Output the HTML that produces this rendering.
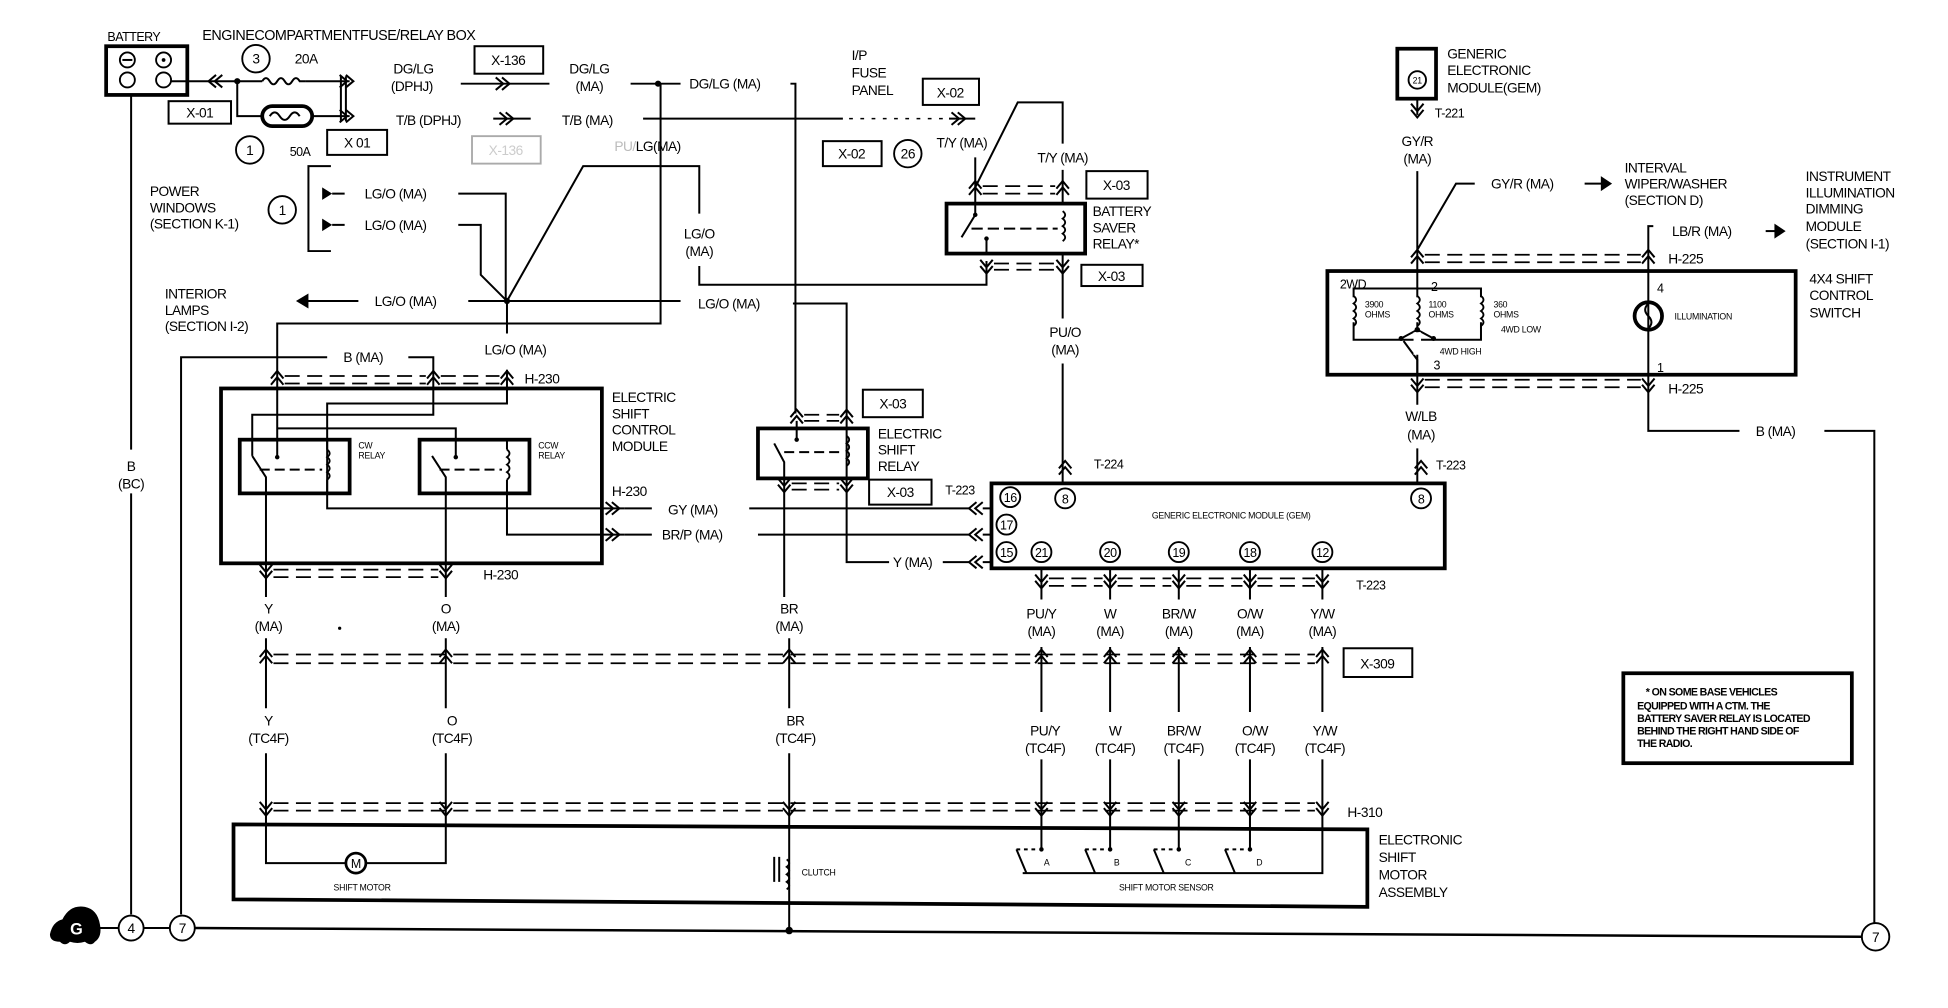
<!DOCTYPE html>
<html><head><meta charset="utf-8"><style>
html,body{margin:0;padding:0;background:#fff;width:1948px;height:1008px;overflow:hidden}
svg{display:block}
text{font-family:"Liberation Sans",sans-serif;font-size:11px;fill:#000;letter-spacing:-0.4px}
.w{stroke:#000;stroke-width:1.6;fill:none}
.t{stroke:#000;stroke-width:3;fill:none}
.b{stroke:#000;stroke-width:1.5;fill:#fff}
.d{stroke:#000;stroke-width:1.4;stroke-dasharray:12 6;fill:none}
.s{font-size:7px;letter-spacing:-0.2px}
.n{font-size:8.5px;letter-spacing:-0.5px;font-weight:bold}
.p{font-size:10px}
.c{text-anchor:middle}
</style></head><body>
<svg width="1948" height="1008" viewBox="0 0 1560 807" preserveAspectRatio="none" xmlns="http://www.w3.org/2000/svg">
<defs>
<path id="up" d="M-5,5 L0,-1 L5,5 M-5,10 L0,4 L5,10" stroke="#000" stroke-width="1.6" fill="none"/>
<path id="dn" d="M-5,-5 L0,1 L5,-5 M-5,-10 L0,-4 L5,-10" stroke="#000" stroke-width="1.6" fill="none"/>
<path id="rt" d="M-5,-5 L1,0 L-5,5 M-10,-5 L-4,0 L-10,5" stroke="#000" stroke-width="1.6" fill="none"/>
<path id="lt" d="M5,-5 L-1,0 L5,5 M10,-5 L4,0 L10,5" stroke="#000" stroke-width="1.6" fill="none"/>
<path id="coil" d="M0,0 q4,3 0,6 q4,3 0,6 q4,3 0,6 q4,3 0,6" stroke="#000" stroke-width="1.5" fill="none"/>
</defs>

<text x="86" y="33" style="font-size:10px">BATTERY</text>
<rect x="85" y="37" width="65" height="39" class="t"/>
<circle cx="102" cy="48" r="6" class="b"/><line x1="98" y1="48" x2="106" y2="48" class="w"/>
<circle cx="131" cy="48" r="6" class="b"/><circle cx="131" cy="48" r="1.5"/>
<circle cx="102" cy="64" r="6" class="b"/><circle cx="131" cy="64" r="6" class="b"/>
<text x="162" y="32" style="font-size:11.5px">ENGINECOMPARTMENTFUSE/RELAY  BOX</text>
<circle cx="205" cy="47" r="11" class="b"/><text x="205" y="51" class="c">3</text>
<text x="236" y="51">20A</text>
<path d="M137,65 H210 M245,65 H280" class="w"/>
<path d="M210,65 q3,-5 6,0 q3,5 6,0 q3,-5 6,0 q3,5 6,0 q3,-5 6,0 l5,0" class="w"/>
<use href="#lt" x="168" y="65"/>
<circle cx="190" cy="65" r="2.5"/>
<path d="M190,65 V93 H210 M250,93 H280" class="w"/>
<rect x="210" y="85" width="40" height="16" rx="8" class="t"/>
<path d="M216,93 q4,-6 8,0 q4,6 8,0 q4,-6 8,0" class="w"/>
<use href="#rt" x="282" y="65"/><use href="#rt" x="282" y="93"/>
<path d="M273,61 V97 M277,61 V97" class="w"/>
<rect x="135" y="81" width="50" height="18" class="w"/><text x="160" y="94" class="c">X-01</text>
<rect x="262" y="104" width="48" height="20" class="w"/><text x="286" y="118" class="c">X 01</text>
<circle cx="200" cy="120" r="11" class="b"/><text x="200" y="124" class="c">1</text>
<text x="232" y="125" style="font-size:10px">50A</text>

<text x="315" y="59">DG/LG</text><text x="313" y="73">(DPHJ)</text>
<path d="M369,67 H440" class="w"/><use href="#rt" x="407" y="67"/>
<rect x="380" y="37" width="55" height="22" class="w"/><text x="407" y="52" class="c">X-136</text>
<text x="472" y="59" class="c">DG/LG</text><text x="472" y="73" class="c">(MA)</text>
<path d="M505,67 H545" class="w"/><circle cx="527" cy="67" r="2.5"/>
<text x="552" y="71">DG/LG (MA)</text>
<path d="M633,67 H637 V331" class="w"/>
<text x="317" y="100">T/B (DPHJ)</text>
<path d="M395,95 H425" class="w"/><use href="#rt" x="410" y="95"/>
<text x="450" y="100">T/B (MA)</text>
<path d="M515,95 H675" class="w"/>
<path d="M680,95 H760" stroke="#000" stroke-width="1.2" stroke-dasharray="3 6" fill="none"/>
<path d="M760,95 H781" class="w"/><use href="#rt" x="772" y="95"/>
<text x="682" y="48">I/P</text><text x="682" y="62">FUSE</text><text x="682" y="76">PANEL</text>
<rect x="739" y="63" width="45" height="21" class="w"/><text x="761" y="78" class="c">X-02</text>
<rect x="659" y="113" width="47" height="20" class="w"/><text x="682" y="127" class="c">X-02</text>
<circle cx="727" cy="123" r="11" class="b"/><text x="727" y="127" class="c">26</text>
<text x="750" y="118">T/Y (MA)</text>
<rect x="378" y="109" width="55" height="22" stroke="#aaa" stroke-width="1.5" fill="none"/><text x="405" y="124" class="c" style="fill:#ccc">X-136</text>
<text x="492" y="121"><tspan style="fill:#bbb">PU/</tspan>LG(MA)</text>
<path d="M529,67 V259 H222 V352" class="w"/>

<text x="120" y="157">POWER</text><text x="120" y="170">WINDOWS</text><text x="120" y="183">(SECTION K-1)</text>
<circle cx="226" cy="168" r="11" class="b"/><text x="226" y="172" class="c">1</text>
<path d="M265,133 H247 V201 H265" class="w"/>
<path d="M258,150 L266,155 L258,160 Z M258,175 L266,180 L258,185 Z"/>
<path d="M266,155 H276 M266,180 H276" class="w"/>
<text x="292" y="159">LG/O (MA)</text><text x="292" y="184">LG/O (MA)</text>
<path d="M367,155 H405 V241 M367,180 H385 V220 L406,241 L467,133 H560 V171" class="w"/>
<text x="560" y="191" class="c">LG/O</text><text x="560" y="205" class="c">(MA)</text>
<path d="M560,213 V228 H790 V209" class="w"/>
<text x="132" y="239">INTERIOR</text><text x="132" y="252">LAMPS</text><text x="132" y="265">(SECTION I-2)</text>
<path d="M237,241 L247,235 L247,247 Z"/>
<path d="M245,241 H287 M375,241 H545" class="w"/>
<text x="300" y="245">LG/O (MA)</text>
<circle cx="406" cy="241" r="2.5"/>
<text x="559" y="247">LG/O (MA)</text>
<path d="M635,243 H678 V450 H712" class="w"/>
<path d="M406,241 V267 M406,296 V323 H262 V407 H500" class="w"/>
<text x="388" y="284">LG/O (MA)</text>

<path d="M105,76 V360 M105,395 V732" class="w"/>
<text x="105" y="377" class="c">B</text><text x="105" y="391" class="c">(BC)</text>
<path d="M145,732 V286 H262 M327,286 H347 V332 H202 V352" class="w"/>
<text x="275" y="290">B (MA)</text>
<path d="M222,343 H365 V352" class="w"/>

<use href="#up" x="222" y="298"/><use href="#up" x="347" y="298"/><use href="#up" x="406" y="298"/>
<path d="M228,301 H341 M353,301 H400 M228,307 H341 M353,307 H400" class="d"/>
<text x="420" y="307">H-230</text>

<rect x="177" y="311" width="305" height="140" class="t"/>
<text x="490" y="322">ELECTRIC</text><text x="490" y="335">SHIFT</text><text x="490" y="348">CONTROL</text><text x="490" y="361">MODULE</text>
<rect x="192" y="352" width="88" height="43" class="t"/>
<rect x="336" y="352" width="88" height="43" class="t"/>
<text x="287" y="359" class="s">CW</text><text x="287" y="367" class="s">RELAY</text>
<text x="431" y="359" class="s">CCW</text><text x="431" y="367" class="s">RELAY</text>
<use href="#coil" x="262" y="360"/><use href="#coil" x="406" y="360"/>
<path d="M262,352 V360 M262,384 V395 M406,352 V360 M406,384 V428 H500" class="w"/>
<path d="M202,352 V365 M222,352 V365 M213,395 V382 L202,365 M357,395 V382 L346,365 M365,352 V365" class="w"/>
<circle cx="222" cy="366" r="1.8"/><circle cx="365" cy="366" r="1.8"/>
<path d="M208,376 H258 M352,376 H402" class="w" stroke-dasharray="8 4"/>
<path d="M213,395 V478 M357,395 V478" class="w"/>
<text x="490" y="397">H-230</text>
<text x="535" y="412">GY (MA)</text><text x="530" y="432">BR/P (MA)</text>
<use href="#rt" x="495" y="407"/><use href="#rt" x="495" y="428"/>
<path d="M500,407 H522 M600,407 H777 M500,428 H522 M607,428 H777 M755,450 H777" class="w"/>
<text x="715" y="454">Y (MA)</text>
<use href="#lt" x="777" y="407"/><use href="#lt" x="777" y="428"/><use href="#lt" x="777" y="450"/>
<path d="M787,407 H794 M787,428 H794 M787,450 H794" class="w"/>

<use href="#dn" x="213" y="462"/><use href="#dn" x="357" y="462"/>
<path d="M219,456 H351 M219,462 H351" class="d"/>
<text x="387" y="464">H-230</text>
<text x="215" y="491" class="c">Y</text><text x="215" y="505" class="c">(MA)</text>
<text x="357" y="491" class="c">O</text><text x="357" y="505" class="c">(MA)</text>
<circle cx="272" cy="503" r="1.3"/>
<text x="632" y="491" class="c">BR</text><text x="632" y="505" class="c">(MA)</text>

<use href="#up" x="638" y="329"/><use href="#up" x="678" y="329"/>
<path d="M644,332 H672 M644,337 H672" class="d"/>
<rect x="607" y="343" width="88" height="40" class="t"/>
<use href="#coil" x="678" y="349"/>
<path d="M638,337 V352 M628,383 V370 L620,355" class="w"/><circle cx="638" cy="352" r="1.8"/>
<path d="M628,362 H672" class="w" stroke-dasharray="8 4"/>
<use href="#dn" x="628" y="393"/><use href="#dn" x="678" y="393"/>
<path d="M634,387 H672 M634,392 H672" class="d"/>
<path d="M628,383 V478 M632,511 V567 M632,603 V745" class="w"/>
<rect x="691" y="312" width="48" height="22" class="w"/><text x="715" y="327" class="c">X-03</text>
<rect x="696" y="384" width="50" height="20" class="w"/><text x="721" y="398" class="c">X-03</text>
<text x="703" y="351">ELECTRIC</text><text x="703" y="364">SHIFT</text><text x="703" y="377">RELAY</text>
<text x="757" y="396" style="font-size:10px">T-223</text>

<path d="M781,126 V163 M781,150 L815,82 H851 V115 M851,136 V163" class="w"/>
<text x="851" y="130" class="c">T/Y (MA)</text>
<use href="#up" x="781" y="146"/><use href="#up" x="851" y="146"/>
<path d="M787,149 H845 M787,155 H845" class="d"/>
<rect x="870" y="137" width="49" height="22" class="w"/><text x="894" y="152" class="c">X-03</text>
<rect x="758" y="163" width="111" height="40" class="t"/>
<use href="#coil" x="851" y="169"/>
<path d="M781,163 V172 L770,190 M790,203 V192" class="w"/><circle cx="781" cy="172" r="1.8"/><circle cx="790" cy="191" r="1.8"/>
<path d="M778,183 H847" class="w" stroke-dasharray="9 4"/>
<use href="#dn" x="790" y="218"/><use href="#dn" x="851" y="218"/>
<path d="M796,211 H845 M796,216 H845" class="d"/>
<rect x="866" y="212" width="49" height="17" class="w"/><text x="890" y="225" class="c">X-03</text>
<text x="875" y="173">BATTERY</text><text x="875" y="186">SAVER</text><text x="875" y="199">RELAY*</text>
<path d="M851,203 V255 M851,291 V387" class="w"/>
<text x="853" y="270" class="c">PU/O</text><text x="853" y="284" class="c">(MA)</text>
<use href="#up" x="853" y="370"/><text x="876" y="375" style="font-size:10px">T-224</text>

<rect x="794" y="387" width="363" height="68" class="t"/>
<circle cx="809" cy="398" r="8" class="b"/><text x="809" y="402" class="c p">16</text>
<circle cx="806" cy="420" r="8" class="b"/><text x="806" y="424" class="c p">17</text>
<circle cx="806" cy="442" r="8" class="b"/><text x="806" y="446" class="c p">15</text>
<circle cx="853" cy="399" r="8" class="b"/><text x="853" y="403" class="c p">8</text>
<circle cx="1138" cy="399" r="8" class="b"/><text x="1138" y="403" class="c p">8</text>
<circle cx="834" cy="442" r="8" class="b"/><text x="834" y="446" class="c p">21</text>
<circle cx="889" cy="442" r="8" class="b"/><text x="889" y="446" class="c p">20</text>
<circle cx="944" cy="442" r="8" class="b"/><text x="944" y="446" class="c p">19</text>
<circle cx="1001" cy="442" r="8" class="b"/><text x="1001" y="446" class="c p">18</text>
<circle cx="1059" cy="442" r="8" class="b"/><text x="1059" y="446" class="c p">12</text>
<text x="986" y="415" class="c s">GENERIC ELECTRONIC MODULE (GEM)</text>

<use href="#dn" x="834" y="470"/><use href="#dn" x="889" y="470"/><use href="#dn" x="944" y="470"/><use href="#dn" x="1001" y="470"/><use href="#dn" x="1059" y="470"/>
<path d="M840,463 H883 M895,463 H938 M950,463 H995 M1007,463 H1053 M840,469 H883 M895,469 H938 M950,469 H995 M1007,469 H1053" class="d"/>
<text x="1086" y="472" style="font-size:10px">T-223</text>
<text x="834" y="495" class="c">PU/Y</text><text x="834" y="509" class="c">(MA)</text>
<text x="889" y="495" class="c">W</text><text x="889" y="509" class="c">(MA)</text>
<text x="944" y="495" class="c">BR/W</text><text x="944" y="509" class="c">(MA)</text>
<text x="1001" y="495" class="c">O/W</text><text x="1001" y="509" class="c">(MA)</text>
<text x="1059" y="495" class="c">Y/W</text><text x="1059" y="509" class="c">(MA)</text>
<text x="837" y="589" class="c">PU/Y</text><text x="837" y="603" class="c">(TC4F)</text>
<text x="893" y="589" class="c">W</text><text x="893" y="603" class="c">(TC4F)</text>
<text x="948" y="589" class="c">BR/W</text><text x="948" y="603" class="c">(TC4F)</text>
<text x="1005" y="589" class="c">O/W</text><text x="1005" y="603" class="c">(TC4F)</text>
<text x="1061" y="589" class="c">Y/W</text><text x="1061" y="603" class="c">(TC4F)</text>
<text x="215" y="581" class="c">Y</text><text x="215" y="595" class="c">(TC4F)</text>
<text x="362" y="581" class="c">O</text><text x="362" y="595" class="c">(TC4F)</text>
<text x="637" y="581" class="c">BR</text><text x="637" y="595" class="c">(TC4F)</text>
<path d="M834,455 V480 M889,455 V480 M944,455 V480 M1001,455 V480 M1059,455 V480" class="w"/>
<path d="M834,518 V570 M889,518 V570 M944,518 V570 M1001,518 V570 M1059,518 V570 M834,608 V680 M889,608 V680 M944,608 V680 M1001,608 V680 M1059,608 V699 H819" class="w"/>
<path d="M213,511 V567 M357,511 V567 M213,603 V660 M357,603 V660" class="w"/>
<use href="#up" x="213" y="521"/><use href="#up" x="357" y="521"/><use href="#up" x="632" y="521"/>
<use href="#up" x="834" y="521"/><use href="#up" x="889" y="521"/><use href="#up" x="944" y="521"/><use href="#up" x="1001" y="521"/><use href="#up" x="1059" y="521"/>
<path d="M219,524 H1053 M219,531 H1053" class="d"/>
<rect x="1076" y="519" width="55" height="23" class="w"/><text x="1103" y="535" class="c">X-309</text>
<use href="#dn" x="213" y="652"/><use href="#dn" x="357" y="652"/><use href="#dn" x="632" y="652"/>
<use href="#dn" x="834" y="652"/><use href="#dn" x="889" y="652"/><use href="#dn" x="944" y="652"/><use href="#dn" x="1001" y="652"/><use href="#dn" x="1059" y="652"/>
<path d="M219,643 H1053 M219,649 H1053" class="d"/>
<text x="1079" y="654">H-310</text>

<path d="M187,660 L1095,664 L1095,726 L187,720 Z" class="t"/>
<path d="M213,660 V691 H277 M293,691 H357 V660" class="w"/>
<circle cx="285" cy="691" r="8" class="t" style="stroke-width:2.2"/><text x="285" y="695" class="c p">M</text>
<text x="290" y="713" class="c s">SHIFT MOTOR</text>
<path d="M620,686 V706 M624,686 V706" class="w"/>
<use href="#coil" x="630" y="688"/>
<text x="642" y="701" class="s">CLUTCH</text>
<g class="w">
<path d="M814,680 L822,699 M869,680 L877,699 M924,680 L932,699 M981,680 L989,699"/>
<path d="M814,680 H830 M869,680 H885 M924,680 H940 M981,680 H997" stroke-dasharray="3 3"/>
</g>
<circle cx="834" cy="680" r="1.8"/><circle cx="889" cy="680" r="1.8"/><circle cx="944" cy="680" r="1.8"/><circle cx="1001" cy="680" r="1.8"/>
<text x="836" y="693" class="s">A</text><text x="892" y="693" class="s">B</text><text x="949" y="693" class="s">C</text><text x="1006" y="693" class="s">D</text>
<text x="934" y="713" class="c s">SHIFT MOTOR SENSOR</text>
<text x="1104" y="676">ELECTRONIC</text><text x="1104" y="690">SHIFT</text><text x="1104" y="704">MOTOR</text><text x="1104" y="718">ASSEMBLY</text>

<path d="M40,748 q2,-10 10,-12 q6,-12 18,-10 q10,2 12,14 q2,10 -4,14 q-3,4 -8,0 q-6,2 -12,0 q-4,4 -8,0 q-8,0 -8,-6 Z"/>
<text x="61" y="748" class="c" style="fill:#fff;font-weight:bold;font-size:13px">G</text>
<path d="M80,743 H95 M115,743 H136" class="w"/>
<circle cx="105" cy="743" r="10" class="b"/><text x="105" y="747" class="c">4</text>
<circle cx="146" cy="743" r="10" class="b"/><text x="146" y="747" class="c">7</text>
<path d="M156,743 L1491,750" class="w" style="stroke-width:2"/>
<circle cx="632" cy="745" r="3"/>
<circle cx="1502" cy="750" r="11" class="b"/><text x="1502" y="754" class="c">7</text>

<rect x="1119" y="39" width="31" height="40" class="t"/>
<circle cx="1135" cy="64" r="7" class="b"/><text x="1135" y="67" class="c s">21</text>
<text x="1159" y="47">GENERIC</text><text x="1159" y="60">ELECTRONIC</text><text x="1159" y="74">MODULE(GEM)</text>
<path d="M1135,79 V92" class="w"/><use href="#dn" x="1135" y="93"/>
<text x="1149" y="94" style="font-size:10px">T-221</text>
<text x="1135" y="117" class="c">GY/R</text><text x="1135" y="131" class="c">(MA)</text>
<path d="M1135,137 V324 M1135,359 V387 M1135,200 L1166,147 H1181" class="w"/>
<text x="1194" y="151">GY/R (MA)</text>
<path d="M1269,147 H1283" class="w"/><path d="M1282,141 L1291,147 L1282,153 Z"/>
<text x="1301" y="138">INTERVAL</text><text x="1301" y="151">WIPER/WASHER</text><text x="1301" y="164">(SECTION D)</text>
<path d="M1324,181 H1320 V345 H1393 M1461,345 H1501 V739" class="w"/>
<text x="1339" y="189">LB/R (MA)</text>
<path d="M1414,185 H1422" class="w"/><path d="M1421,179 L1430,185 L1421,191 Z"/>
<text x="1446" y="145">INSTRUMENT</text><text x="1446" y="158">ILLUMINATION</text><text x="1446" y="171">DIMMING</text><text x="1446" y="185">MODULE</text><text x="1446" y="199">(SECTION I-1)</text>
<use href="#up" x="1135" y="201"/><use href="#up" x="1320" y="201"/>
<path d="M1141,204 H1314 M1141,210 H1314" class="d"/>
<text x="1336" y="211">H-225</text>
<rect x="1063" y="217" width="375" height="83" class="t"/>
<text x="1449" y="227">4X4 SHIFT</text><text x="1449" y="240">CONTROL</text><text x="1449" y="254">SWITCH</text>
<text x="1073" y="231" style="font-size:10px">2WD</text>
<text x="1146" y="233" style="font-size:10px">2</text>
<text x="1327" y="234" style="font-size:10px">4</text>
<text x="1327" y="298" style="font-size:10px">1</text>
<text x="1148" y="296" style="font-size:10px">3</text>
<path d="M1084,231 H1186 V272 H1084 Z" class="w"/>
<rect x="1081" y="238" width="6" height="20" fill="#fff"/><rect x="1132" y="238" width="6" height="20" fill="#fff"/><rect x="1183" y="238" width="6" height="20" fill="#fff"/>
<use href="#coil" x="1084" y="237"/><use href="#coil" x="1135" y="237"/><use href="#coil" x="1186" y="237"/>
<text x="1093" y="246" class="s">3900</text><text x="1093" y="254" class="s">OHMS</text>
<text x="1144" y="246" class="s">1100</text><text x="1144" y="254" class="s">OHMS</text>
<text x="1196" y="246" class="s">360</text><text x="1196" y="254" class="s">OHMS</text>
<text x="1202" y="266" class="s">4WD LOW</text>
<text x="1153" y="284" class="s">4WD HIGH</text>
<circle cx="1135" cy="264" r="2.2"/><circle cx="1122" cy="271" r="2"/><circle cx="1148" cy="271" r="2"/>
<path d="M1135,264 L1122,271 M1135,264 L1148,271 M1124,273 L1135,288 V300" class="w"/>
<rect x="1132" y="266" width="6" height="18" fill="#fff"/>
<circle cx="1320" cy="253" r="11" class="t"/>
<path d="M1320,243 q-5,5 0,10 q5,5 0,10" class="w"/>
<text x="1341" y="256" class="s">ILLUMINATION</text>
<use href="#dn" x="1135" y="313"/><use href="#dn" x="1320" y="313"/>
<path d="M1141,304 H1314 M1141,310 H1314" class="d"/>
<text x="1336" y="315">H-225</text>
<text x="1138" y="337" class="c">W/LB</text><text x="1138" y="352" class="c">(MA)</text>
<use href="#up" x="1138" y="370"/><text x="1150" y="376" style="font-size:10px">T-223</text>
<text x="1406" y="349">B (MA)</text>

<rect x="1300" y="539" width="183" height="72" class="t"/>
<text x="1318" y="557" class="n">*    ON SOME BASE VEHICLES</text>
<text x="1311" y="568" class="n">EQUIPPED WITH A CTM. THE</text>
<text x="1311" y="578" class="n">BATTERY SAVER RELAY IS LOCATED</text>
<text x="1311" y="588" class="n">BEHIND THE RIGHT HAND SIDE OF</text>
<text x="1311" y="598" class="n">THE RADIO.</text>
</svg>
</body></html>
